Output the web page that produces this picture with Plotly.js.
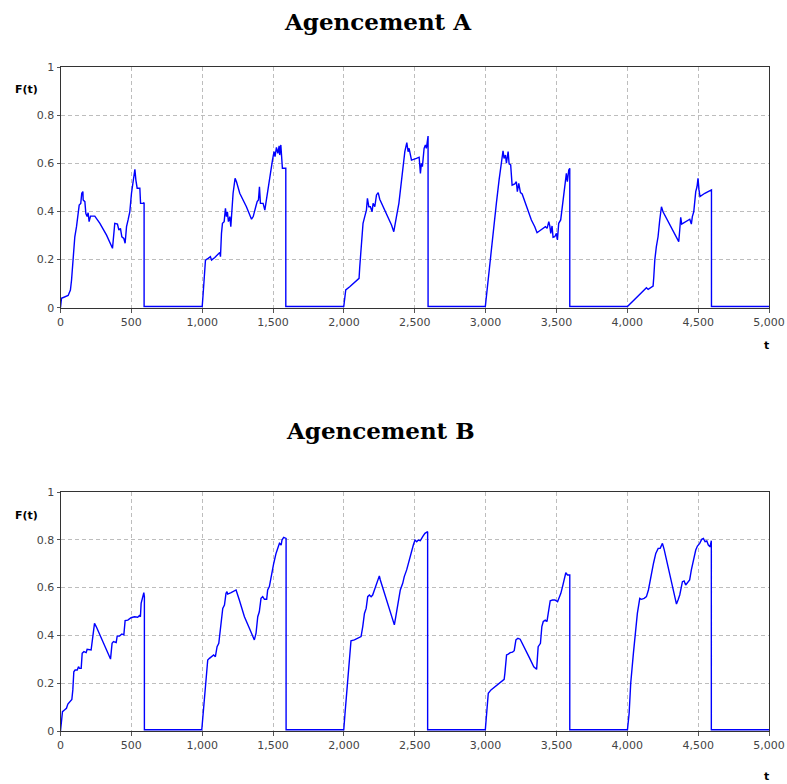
<!DOCTYPE html>
<html>
<head>
<meta charset="utf-8">
<script src="https://cdn.plot.ly/plotly-3.0.1.min.js"></script>
<style>html,body{margin:0;padding:0;background:#fff;}#chart{width:787px;height:784px;}</style>
</head>
<body>
<div id="chart"></div>
<script>
const titles = ["Agencement A", "Agencement B"];
const yLabel = "F(t)";
const xLabel = "t";

const tA = [0,7,54,70,78,89,101,113,125,132,143,150,158,160,172,179,188,195,202,212,242,278,325,360,367,383,402,412,423,433,447,456,466,477,489,501,513,525,532,541,560,565,583,590,590,
1000,1007,1014,1023,1042,1058,1066,1089,1124,1129,1136,1143,1155,1164,1171,1178,1185,1195,1202,1211,1218,1232,1242,1265,1312,1348,1360,1378,1388,1397,1404,1411,1430,1442,1459,1477,1496,1507,1514,1524,1534,1543,1547,1555,1562,1566,1590,1590,
1999,2013,2041,2077,2107,2112,2124,2135,2147,2159,2166,2176,2187,2199,2206,2218,2230,2242,2253,2300,2336,2352,2359,2371,2388,2406,2418,2430,2444,2453,2460,2477,2512,2531,2540,2547,2554,2566,2575,2582,2594,2594,
2998,3010,3029,3052,3076,3095,3111,3123,3130,3140,3147,3159,3166,3177,3187,3206,3217,3224,3234,3246,3258,3288,3323,3347,3363,3382,3406,3422,3434,3446,3453,3460,3469,3476,3488,3500,3507,3516,3530,3542,3558,3570,3577,3587,3594,3594,
4001,4041,4088,4135,4147,4182,4187,4194,4205,4217,4229,4241,4252,4299,4335,4363,4370,4377,4384,4412,4441,4452,4459,4469,4476,4483,4492,4499,4506,4513,4547,4594,4594,5000];
const fA = [0,0.039,0.051,0.073,0.115,0.198,0.295,0.337,0.392,0.427,0.434,0.476,0.483,0.448,0.441,0.392,0.379,0.395,0.358,0.381,0.381,0.351,0.302,0.261,0.247,0.351,0.348,0.323,0.330,0.295,0.288,0.268,0.337,0.365,0.399,0.476,0.531,0.576,0.531,0.497,0.497,0.434,0.434,0.437,0.005,
0.005,0.06,0.143,0.198,0.205,0.212,0.198,0.209,0.230,0.212,0.309,0.351,0.358,0.413,0.379,0.399,0.358,0.379,0.337,0.413,0.476,0.538,0.524,0.476,0.420,0.368,0.379,0.420,0.441,0.448,0.503,0.434,0.434,0.406,0.476,0.552,0.614,0.649,0.628,0.667,0.642,0.673,0.635,0.677,0.628,0.580,0.580,0.005,
0.005,0.074,0.087,0.104,0.122,0.171,0.282,0.351,0.379,0.406,0.455,0.420,0.420,0.399,0.434,0.420,0.469,0.479,0.451,0.392,0.344,0.316,0.344,0.379,0.434,0.517,0.573,0.649,0.687,0.649,0.663,0.614,0.621,0.626,0.559,0.601,0.587,0.663,0.677,0.663,0.714,0.005,
0.005,0.074,0.171,0.309,0.434,0.531,0.601,0.653,0.621,0.635,0.601,0.649,0.598,0.594,0.510,0.515,0.524,0.483,0.517,0.479,0.473,0.420,0.365,0.337,0.312,0.320,0.330,0.337,0.330,0.358,0.340,0.309,0.340,0.293,0.295,0.309,0.282,0.351,0.365,0.420,0.503,0.559,0.524,0.573,0.580,0.005,
0.005,0.029,0.053,0.083,0.076,0.090,0.129,0.198,0.254,0.295,0.365,0.420,0.399,0.344,0.302,0.275,0.323,0.376,0.348,0.358,0.368,0.348,0.379,0.399,0.448,0.483,0.503,0.538,0.490,0.462,0.476,0.490,0.005,0.005];

const tB = [0,7,14,28,42,52,63,80,87,94,103,118,127,134,146,153,165,181,188,205,216,228,240,252,287,322,353,364,374,393,400,416,433,447,456,475,498,522,545,557,564,569,581,588,592,592,
997,1006,1016,1027,1039,1051,1067,1081,1093,1105,1117,1128,1145,1157,1168,1175,1180,1204,1227,1239,1262,1298,1333,1356,1368,1380,1392,1403,1415,1427,1439,1455,1462,1474,1486,1505,1521,1538,1545,1557,1563,1575,1587,1592,1592,
1999,2008,2022,2036,2050,2074,2097,2121,2133,2145,2157,2168,2180,2192,2203,2215,2227,2239,2250,2257,2286,2320,2344,2356,2368,2384,2398,2415,2426,2443,2457,2473,2490,2502,2514,2525,2539,2556,2572,2591,2591,
2998,3007,3019,3038,3061,3085,3120,3131,3136,3148,3160,3174,3190,3202,3214,3228,3244,3272,3308,3340,3360,3371,3387,3397,3407,3421,3433,3442,3456,3472,3489,3508,3519,3531,3543,3554,3566,3578,3594,3594,
4001,4013,4024,4043,4060,4071,4088,4100,4119,4135,4149,4166,4185,4201,4218,4232,4248,4260,4283,4307,4331,4347,4358,4370,4389,4401,4412,4429,4440,4452,4466,4483,4495,4511,4525,4537,4549,4561,4572,4584,4593,4593,5000];
const fB = [0,0.032,0.081,0.088,0.095,0.113,0.119,0.132,0.172,0.248,0.255,0.255,0.269,0.262,0.262,0.325,0.332,0.328,0.342,0.342,0.339,0.395,0.450,0.437,0.388,0.339,0.301,0.367,0.374,0.370,0.397,0.397,0.406,0.402,0.462,0.464,0.474,0.478,0.476,0.483,0.478,0.534,0.562,0.579,0.562,0.005,
0.005,0.074,0.158,0.241,0.297,0.304,0.311,0.318,0.311,0.353,0.367,0.437,0.513,0.527,0.576,0.583,0.573,0.579,0.587,0.590,0.548,0.478,0.430,0.395,0.381,0.409,0.478,0.499,0.555,0.562,0.551,0.551,0.590,0.604,0.646,0.702,0.743,0.771,0.785,0.778,0.799,0.810,0.806,0.806,0.005,
0.005,0.074,0.185,0.283,0.377,0.381,0.388,0.395,0.437,0.492,0.513,0.562,0.569,0.562,0.569,0.590,0.618,0.632,0.649,0.632,0.576,0.506,0.464,0.444,0.485,0.548,0.590,0.618,0.646,0.674,0.709,0.743,0.778,0.799,0.792,0.799,0.796,0.813,0.827,0.834,0.005,
0.005,0.074,0.158,0.172,0.183,0.197,0.213,0.216,0.241,0.318,0.322,0.328,0.330,0.336,0.381,0.388,0.384,0.353,0.308,0.269,0.258,0.353,0.367,0.437,0.458,0.464,0.458,0.492,0.545,0.548,0.548,0.541,0.555,0.576,0.604,0.632,0.662,0.653,0.653,0.005,
0.005,0.074,0.199,0.325,0.423,0.492,0.555,0.551,0.555,0.562,0.590,0.646,0.702,0.743,0.764,0.764,0.785,0.760,0.702,0.632,0.576,0.531,0.548,0.569,0.625,0.628,0.611,0.625,0.632,0.674,0.715,0.757,0.774,0.785,0.802,0.806,0.792,0.795,0.778,0.771,0.796,0.005,0.005];

const lineStyle = {color: '#0000ff', width: 1.4};
const traces = [
  {x: tA, y: fA, type: 'scatter', mode: 'lines', line: lineStyle, xaxis: 'x', yaxis: 'y', hoverinfo: 'skip'},
  {x: tB, y: fB, type: 'scatter', mode: 'lines', line: lineStyle, xaxis: 'x2', yaxis: 'y2', hoverinfo: 'skip'}
];

const tickFont = {family: 'DejaVu Sans', size: 11, color: '#444'};
function xax(dom) {
  return {domain: dom, range: [0, 5000], dtick: 500, tick0: 0, tickformat: ',d',
    showgrid: true, gridcolor: '#bdbdbd', griddash: '4px,3px', gridwidth: 1,
    showline: true, linecolor: '#333', linewidth: 1, mirror: true,
    ticks: 'outside', ticklen: 4, tickcolor: '#555', tickfont: tickFont, zeroline: false, fixedrange: true};
}
function yax(dom, anchor) {
  return {domain: dom, range: [0, 1], dtick: 0.2, tick0: 0, anchor: anchor,
    showgrid: true, gridcolor: '#bdbdbd', griddash: '4px,3px', gridwidth: 1,
    showline: true, linecolor: '#333', linewidth: 1, mirror: true,
    ticks: 'outside', ticklen: 3, tickcolor: '#555', tickfont: tickFont, zeroline: false, fixedrange: true};
}

const W = 787, H = 784;
const xd = [60.5 / W, 769 / W];
const yTop = [1 - 307.7 / H, 1 - 67.3 / H];
const yBot = [1 - 731 / H, 1 - 492 / H];

const titleFont = {family: 'DejaVu Serif', size: 23, color: '#000', weight: 'bold'};
const labFont = {family: 'DejaVu Sans', size: 11, color: '#000', weight: 'bold'};

const layout = {
  width: W, height: H,
  margin: {l: 0, r: 0, t: 0, b: 0},
  paper_bgcolor: '#fff', plot_bgcolor: '#fff',
  showlegend: false,
  xaxis: Object.assign(xax(xd), {anchor: 'y'}),
  yaxis: yax(yTop, 'x'),
  xaxis2: Object.assign(xax(xd), {anchor: 'y2'}),
  yaxis2: yax(yBot, 'x2'),
  annotations: [
    {text: '<b>' + titles[0] + '</b>', xref: 'paper', yref: 'paper', x: 378 / W, y: 1 - 21 / H, showarrow: false, font: titleFont, xanchor: 'center', yanchor: 'middle'},
    {text: '<b>' + titles[1] + '</b>', xref: 'paper', yref: 'paper', x: 380 / W, y: 1 - 430 / H, showarrow: false, font: titleFont, xanchor: 'center', yanchor: 'middle'},
    {text: '<b>' + yLabel + '</b>', xref: 'paper', yref: 'paper', x: 26 / W, y: 1 - 90 / H, showarrow: false, font: labFont, xanchor: 'center', yanchor: 'middle'},
    {text: '<b>' + yLabel + '</b>', xref: 'paper', yref: 'paper', x: 26 / W, y: 1 - 515 / H, showarrow: false, font: labFont, xanchor: 'center', yanchor: 'middle'},
    {text: '<b>' + xLabel + '</b>', xref: 'paper', yref: 'paper', x: 766 / W, y: 1 - 345 / H, showarrow: false, font: labFont, xanchor: 'center', yanchor: 'middle'},
    {text: '<b>' + xLabel + '</b>', xref: 'paper', yref: 'paper', x: 766 / W, y: 1 - 776 / H, showarrow: false, font: labFont, xanchor: 'center', yanchor: 'middle'}
  ]
};

Plotly.newPlot('chart', traces, layout, {staticPlot: true, displayModeBar: false});
</script>
</body>
</html>
